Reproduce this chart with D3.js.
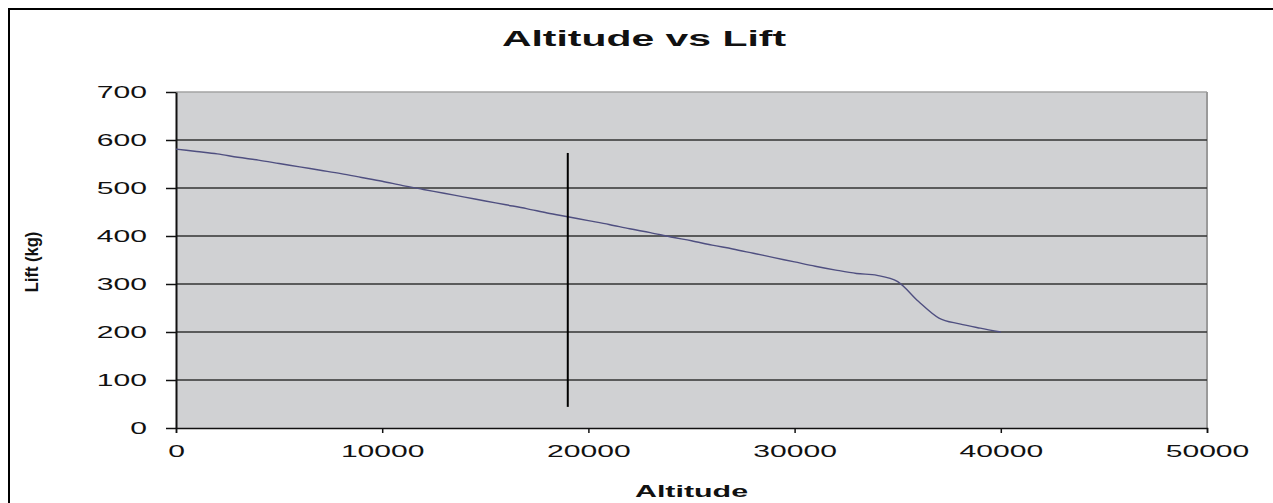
<!DOCTYPE html>
<html lang="en">
<head>
    <meta charset="UTF-8">
    <title>Altitude vs Lift</title>
    <script src="https://d3js.org/d3.v7.min.js"></script>
    <style>
        body { margin: 0; background: #fff; }
        text { font-family: "Liberation Sans", Arial, sans-serif; fill: #111; }
    </style>
</head>
<body>
<svg width="1273" height="503"></svg>

<script>
    // altitude (ft) and lift (kg)
    const altitude = [0, 1000, 2000, 3000, 4000, 5000, 6000, 7000, 8000, 9000,
        10000, 11000, 12000, 13000, 14000, 15000, 16000, 17000, 18000, 19000,
        20000, 21000, 22000, 23000, 24000, 25000, 26000, 27000, 28000, 29000,
        30000, 31000, 32000, 33000, 34000, 35000, 36000, 37000, 38000, 39000, 40000];
    const lift = [581, 576, 571, 564, 558, 551, 544, 537, 530, 522,
        514, 505, 497, 489, 481, 473, 465, 457, 448, 440,
        432, 424, 415, 407, 398, 390, 381, 373, 364, 355,
        346, 337, 329, 322, 318, 305, 264, 229, 217, 208, 200];
    const xTicks = [0, 10000, 20000, 30000, 40000, 50000];
    const yTicks = [0, 100, 200, 300, 400, 500, 600, 700];
    const markerAlt = [19000, 19000];
    const markerLift = [573, 44];

    const data = altitude.map((a, i) => ({alt: a, lift: lift[i]}));

    const svg = d3.select("svg");
    const m = {left: 176, right: 1207, top: 92, bottom: 428};
    const sx = 1.77; // wide lettering of the original

    // outer chart border
    svg.append("rect")
        .attr("x", 9).attr("y", 9)
        .attr("width", 1300).attr("height", 600)
        .attr("fill", "none").attr("stroke", "#000").attr("stroke-width", 2);

    const x = d3.scaleLinear().domain([0, 50000]).range([m.left, m.right]);
    const y = d3.scaleLinear().domain([0, 700]).range([m.bottom, m.top]);

    // plot area
    svg.append("rect")
        .attr("x", m.left).attr("y", m.top)
        .attr("width", m.right - m.left).attr("height", m.bottom - m.top)
        .attr("fill", "#d0d1d3");

    svg.append("line")
        .attr("x1", m.left).attr("x2", m.right).attr("y1", m.top).attr("y2", m.top)
        .attr("stroke", "#a3a3a3").attr("stroke-width", 1.5);
    svg.append("line")
        .attr("x1", m.right).attr("x2", m.right).attr("y1", m.top).attr("y2", m.bottom)
        .attr("stroke", "#9a9a9a").attr("stroke-width", 2);

    // gridlines
    svg.append("g")
        .selectAll("line")
        .data(yTicks.filter(d => d > 0 && d < 700))
        .join("line")
        .attr("x1", m.left).attr("x2", m.right)
        .attr("y1", d => y(d)).attr("y2", d => y(d))
        .attr("stroke", "#333").attr("stroke-width", 1.4);

    // axes
    const xAxis = svg.append("g")
        .attr("transform", `translate(0,${m.bottom})`)
        .call(d3.axisBottom(x).tickValues(xTicks).tickSize(5).tickFormat(d3.format("d")));
    xAxis.select(".domain").attr("stroke", "#111").attr("stroke-width", 1.5);
    xAxis.selectAll(".tick line").attr("stroke", "#111").attr("stroke-width", 1.5);
    xAxis.selectAll(".tick text")
        .attr("y", 29).attr("dy", 0)
        .attr("font-size", 17)
        .attr("fill", "#111")
        .attr("transform", `scale(${sx},1)`);

    const yAxis = svg.append("g")
        .attr("transform", `translate(${m.left},0)`)
        .call(d3.axisLeft(y).tickValues(yTicks).tickSize(10).tickSizeOuter(0));
    yAxis.select(".domain").attr("stroke", "#111").attr("stroke-width", 2);
    yAxis.selectAll(".tick line").attr("stroke", "#111").attr("stroke-width", 1.5);
    yAxis.selectAll(".tick text")
        .attr("x", -29 / sx)
        .attr("font-size", 17)
        .attr("fill", "#111")
        .attr("transform", `scale(${sx},1)`);

    // series line
    const line = d3.line()
        .x(d => x(d.alt))
        .y(d => y(d.lift))
        .curve(d3.curveMonotoneX);

    svg.append("path")
        .datum(data)
        .attr("d", line)
        .attr("fill", "none")
        .attr("stroke", "#4f4f80")
        .attr("stroke-width", 1.4);

    // vertical marker
    svg.append("line")
        .attr("x1", x(markerAlt[0])).attr("x2", x(markerAlt[1]))
        .attr("y1", y(markerLift[0])).attr("y2", y(markerLift[1]))
        .attr("stroke", "#000").attr("stroke-width", 2);

    // titles
    svg.append("text")
        .attr("transform", `translate(644,46) scale(1.86,1)`)
        .attr("text-anchor", "middle")
        .attr("font-size", 22).attr("font-weight", "bold")
        .text("Altitude vs Lift");

    svg.append("text")
        .attr("transform", `translate(${(m.left + m.right) / 2},497) scale(1.79,1)`)
        .attr("text-anchor", "middle")
        .attr("font-size", 17).attr("font-weight", "bold")
        .text("Altitude");

    svg.append("text")
        .attr("transform", `translate(38,262) rotate(-90) scale(0.87,1)`)
        .attr("text-anchor", "middle")
        .attr("font-size", 19).attr("font-weight", "bold")
        .text("Lift (kg)");
</script>
</body>
</html>
